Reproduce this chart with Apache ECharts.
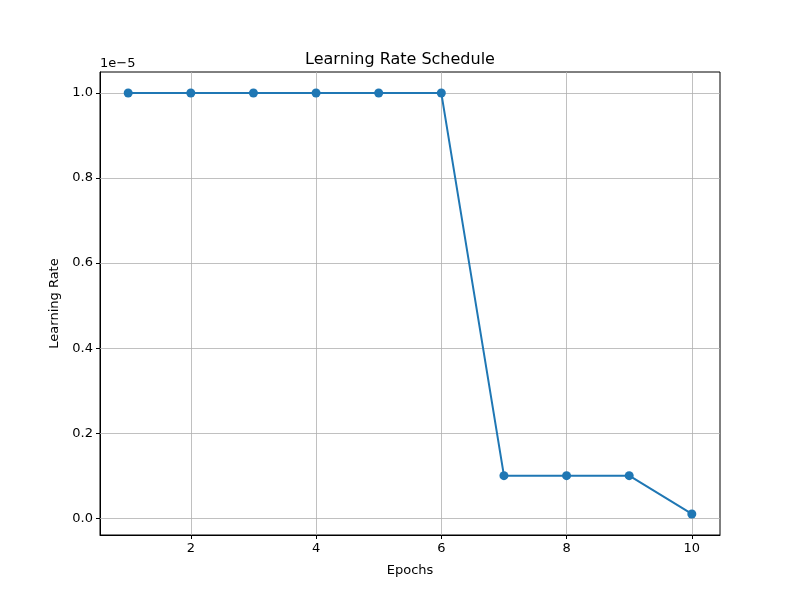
<!DOCTYPE html>
<html><head><meta charset="utf-8">
<script src="https://cdn.jsdelivr.net/npm/echarts@6/dist/echarts.min.js"></script>
<style>html,body{margin:0;padding:0;background:#fff}#c{width:800px;height:600px}</style>
</head><body><div id="c"></div>
<script>
const epochs = [1,2,3,4,5,6,7,8,9,10];
const learningRates = [1.0,1.0,1.0,1.0,1.0,1.0,0.1,0.1,0.1,0.01]; // x 1e-5
const xTicks = [2,4,6,8,10];
const yTicks = [0.0,0.2,0.4,0.6,0.8,1.0];
const titleText = 'Learning Rate Schedule';
const xLabel = 'Epochs';
const yLabel = 'Learning Rate';
const offsetText = '1e\u22125';

const font = 'DejaVu Sans';
const chart = echarts.init(document.getElementById('c'), null, {renderer:'canvas'});
chart.setOption({
  animation:false,
  backgroundColor:'#fff',
  title:{text:titleText,left:'center',top:47,textStyle:{fontFamily:font,fontSize:16,fontWeight:'normal',color:'#000'}},
  graphic:[{type:'text',left:100,top:57,style:{text:offsetText,font:'13px "DejaVu Sans"',fill:'#000'}}],
  grid:{left:100,right:80,top:72,bottom:65,show:true,borderColor:'#000',borderWidth:1,backgroundColor:'transparent'},
  xAxis:{type:'value',min:0.55,max:10.45,
    name:xLabel,nameLocation:'middle',nameGap:29,nameTextStyle:{fontFamily:font,fontSize:13,color:'#000'},
    axisLine:{show:true,onZero:false,lineStyle:{color:'#000',width:1}},
    axisTick:{show:true,inside:false,length:4,customValues:xTicks,lineStyle:{color:'#000'}},
    axisLabel:{customValues:xTicks,fontFamily:font,fontSize:13,color:'#000',margin:7},
    splitLine:{show:false}},
  yAxis:{type:'value',min:-0.0495+0.01,max:1.0495,
    name:yLabel,nameLocation:'middle',nameGap:39,nameTextStyle:{fontFamily:font,fontSize:13,color:'#000'},
    axisLine:{show:true,onZero:false,lineStyle:{color:'#000',width:1}},
    axisTick:{show:true,inside:false,length:4,customValues:yTicks,lineStyle:{color:'#000'}},
    axisLabel:{customValues:yTicks,fontFamily:font,fontSize:13,color:'#000',margin:7,formatter:v=>v.toFixed(1)},
    splitLine:{show:false}},
  series:[
    {type:'line',data:[],silent:true,
     markLine:{silent:true,symbol:'none',label:{show:false},animation:false,
       lineStyle:{color:'#b0b0b0',width:0.8,type:'solid'},
       data:xTicks.map(v=>({xAxis:v})).concat(yTicks.map(v=>({yAxis:v})))}},
    {type:'line',data:epochs.map((e,i)=>[e,learningRates[i]]),
     color:'#1f77b4',symbol:'circle',symbolSize:9,showAllSymbol:true,
     lineStyle:{color:'#1f77b4',width:2},itemStyle:{color:'#1f77b4'},z:5}
  ]
});
</script></body></html>
